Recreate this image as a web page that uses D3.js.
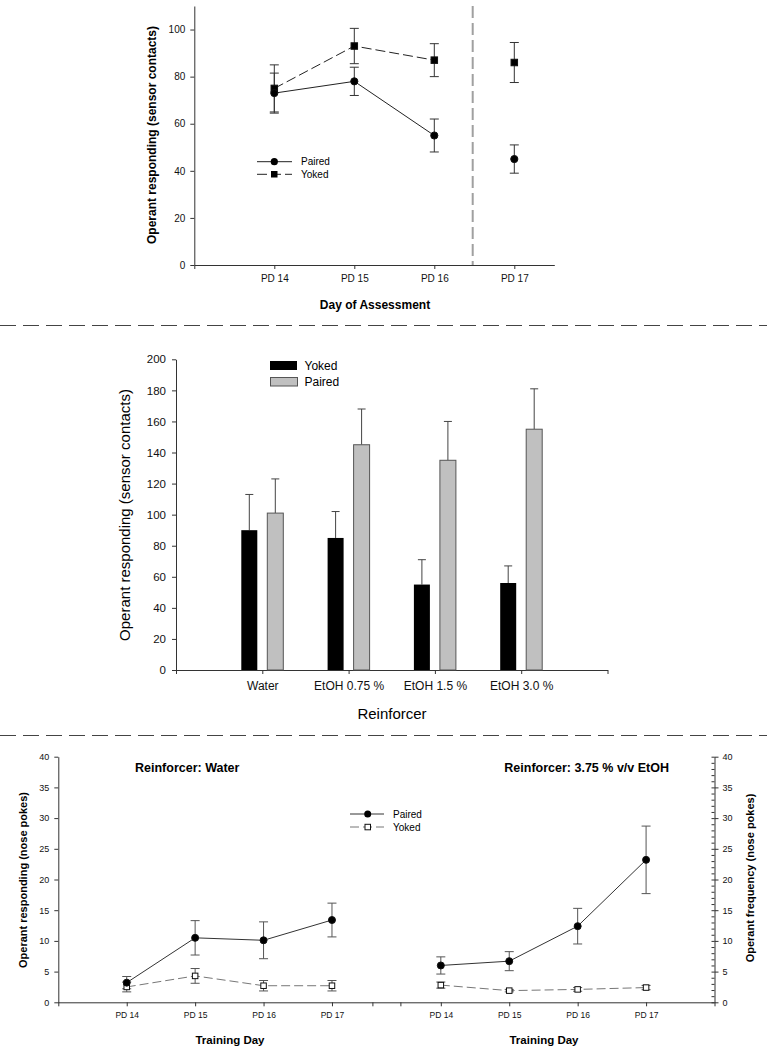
<!DOCTYPE html>
<html>
<head>
<meta charset="utf-8">
<script src="https://cdn.jsdelivr.net/npm/d3@7"></script>
<style>
  body { margin: 0; background: #fff; }
  svg { display: block; font-family: "Liberation Sans", Arial, sans-serif; }
  .axis path, .axis line { stroke: #333; }
  .axis text { fill: #111; }
</style>
</head>
<body>
<div id="chart"></div>
<script>
// ---------- data ----------

// panel 1: day of assessment
var topDays = ["PD 14", "PD 15", "PD 16", "PD 17"];
var topPairedMean = [73, 78, 55, 45];
var topPairedErr = [8.5, 6, 7, 6];
var topYokedMean = [75, 93, 87, 86];
var topYokedErr = [10, 7.5, 7, 8.5];
var topYTicks = [0, 20, 40, 60, 80, 100];

// panel 2: reinforcer bars
var reinforcers = ["Water", "EtOH 0.75 %", "EtOH 1.5 %", "EtOH 3.0 %"];
var barYokedMean = [90, 85, 55, 56];
var barYokedErr = [23, 17, 16, 11];
var barPairedMean = [101, 145, 135, 155];
var barPairedErr = [22, 23, 25, 26];
var midYTicks = [0, 20, 40, 60, 80, 100, 120, 140, 160, 180, 200];

// panel 3: training days, water and ethanol
var trainDays = ["PD 14", "PD 15", "PD 16", "PD 17"];
var waterPairedMean = [3.2, 10.5, 10.1, 13.4];
var waterPairedErr = [1.0, 2.8, 3.0, 2.75];
var waterYokedMean = [2.5, 4.3, 2.7, 2.7];
var waterYokedErr = [0.8, 1.2, 0.85, 0.85];
var etohPairedMean = [6.0, 6.7, 12.4, 23.2];
var etohPairedErr = [1.4, 1.55, 2.9, 5.5];
var etohYokedMean = [2.8, 1.9, 2.1, 2.4];
var etohYokedErr = [0.5, 0.2, 0.3, 0.35];
var botYTicks = [0, 5, 10, 15, 20, 25, 30, 35, 40];

//--------FUNCTIONS-------------

// turn parallel arrays into point records (x position 1..n)
function toPoints(means, errs) {
  return means.map(function(m, i) { return { i: i + 1, m: m, e: errs[i] }; });
}

// vertical error bars with caps
function errorBars(g, pts, x, y, color, capW, upOnly) {
  var eg = g.append("g").attr("stroke", color).attr("stroke-width", 1);
  pts.forEach(function(p) {
    var lo = upOnly ? p.m : p.m - p.e;
    eg.append("line")
      .attr("x1", x(p.i)).attr("x2", x(p.i))
      .attr("y1", y(lo)).attr("y2", y(p.m + p.e));
    eg.append("line")
      .attr("x1", x(p.i) - capW / 2).attr("x2", x(p.i) + capW / 2)
      .attr("y1", y(p.m + p.e)).attr("y2", y(p.m + p.e));
    if (!upOnly) {
      eg.append("line")
        .attr("x1", x(p.i) - capW / 2).attr("x2", x(p.i) + capW / 2)
        .attr("y1", y(p.m - p.e)).attr("y2", y(p.m - p.e));
    }
  });
}

function circles(g, pts, x, y, r, fill) {
  g.append("g").selectAll("circle")
    .data(pts)
    .enter()
    .append("circle")
    .attr("cx", d => x(d.i))
    .attr("cy", d => y(d.m))
    .attr("r", r)
    .attr("fill", fill)
    .attr("stroke", "#111");
}

function squares(g, pts, x, y, s, fill) {
  g.append("g").selectAll("rect")
    .data(pts)
    .enter()
    .append("rect")
    .attr("x", d => x(d.i) - s / 2)
    .attr("y", d => y(d.m) - s / 2)
    .attr("width", s)
    .attr("height", s)
    .attr("fill", fill)
    .attr("stroke", "#111");
}

function dayAxis(labels) {
  return function(d) { return (d >= 1 && d <= labels.length) ? labels[d - 1] : ""; };
}

//--------MAIN-------------

var svg = d3.select("#chart")
  .append("svg")
  .attr("width", 767)
  .attr("height", 1050);

svg.append("rect").attr("width", 767).attr("height", 1050).attr("fill", "#fff");

// ===== panel 1 =====
var p1 = svg.append("g");
var topX = d3.scaleLinear().domain([0, 4.5]).range([194.3, 554.3]);
var topY = d3.scaleLinear().domain([0, 110]).range([265, 6]);

p1.append("g")
  .classed("axis", true)
  .attr("transform", "translate(0,265)")
  .call(d3.axisBottom(topX).tickValues([0, 1, 2, 3, 4]).tickFormat(dayAxis(topDays))
    .tickSize(4).tickSizeOuter(0).tickPadding(6))
  .attr("font-size", 10).attr("font-family", null);

p1.append("g")
  .classed("axis", true)
  .attr("transform", "translate(194.3,0)")
  .call(d3.axisLeft(topY).tickValues(topYTicks).tickSize(4).tickSizeOuter(0).tickPadding(5))
  .attr("font-size", 10).attr("font-family", null);

// grey divider between PD 16 and PD 17
p1.append("line")
  .attr("x1", topX(3.48)).attr("x2", topX(3.48))
  .attr("y1", topY(110)).attr("y2", topY(0))
  .attr("stroke", "#a0a0a0")
  .attr("stroke-width", 2)
  .attr("stroke-dasharray", "12,5");

var topPaired = toPoints(topPairedMean, topPairedErr);
var topYoked = toPoints(topYokedMean, topYokedErr);
var topLine = d3.line().x(d => topX(d.i)).y(d => topY(d.m));

p1.append("path")
  .datum(topPaired.slice(0, 3))
  .attr("d", topLine)
  .attr("fill", "none").attr("stroke", "#222");
p1.append("path")
  .datum(topYoked.slice(0, 3))
  .attr("d", topLine)
  .attr("fill", "none").attr("stroke", "#222")
  .attr("stroke-dasharray", "10,4");

errorBars(p1, topYoked, topX, topY, "#333", 9, false);
errorBars(p1, topPaired, topX, topY, "#333", 9, false);
squares(p1, topYoked, topX, topY, 6.5, "#000");
circles(p1, topPaired, topX, topY, 3.6, "#000");

// legend
var leg1 = p1.append("g");
leg1.append("line").attr("x1", 257).attr("x2", 292).attr("y1", 161.7).attr("y2", 161.7).attr("stroke", "#222");
leg1.append("circle").attr("cx", 274.3).attr("cy", 161.7).attr("r", 3.6).attr("fill", "#000");
leg1.append("line").attr("x1", 257).attr("x2", 292).attr("y1", 174.3).attr("y2", 174.3)
  .attr("stroke", "#222").attr("stroke-dasharray", "10,4");
leg1.append("rect").attr("x", 271).attr("y", 171).attr("width", 6.5).attr("height", 6.5).attr("fill", "#000");
leg1.append("text").attr("x", 301).attr("y", 165.2).attr("font-size", 10).text("Paired");
leg1.append("text").attr("x", 301).attr("y", 177.8).attr("font-size", 10).text("Yoked");

p1.append("text")
  .attr("transform", "translate(155.5,135) rotate(-90)")
  .attr("text-anchor", "middle")
  .attr("font-size", 12).attr("font-weight", "bold")
  .text("Operant responding (sensor contacts)");
p1.append("text")
  .attr("x", 375).attr("y", 308.5)
  .attr("text-anchor", "middle")
  .attr("font-size", 12).attr("font-weight", "bold")
  .text("Day of Assessment");

// separators
svg.append("line")
  .attr("x1", 0).attr("x2", 767).attr("y1", 325.5).attr("y2", 325.5)
  .attr("stroke", "#444").attr("stroke-dasharray", "16,7");
svg.append("line")
  .attr("x1", 0).attr("x2", 767).attr("y1", 735.5).attr("y2", 735.5)
  .attr("stroke", "#444").attr("stroke-dasharray", "16,7");

// ===== panel 2 =====
var p2 = svg.append("g");
var midX = d3.scaleLinear().domain([0, 5]).range([176, 607.5]);
var midY = d3.scaleLinear().domain([0, 200]).range([670, 359.3]);
var barW = 16, barOff = 13;

p2.append("g")
  .classed("axis", true)
  .attr("transform", "translate(0,670)")
  .call(d3.axisBottom(midX).tickValues([0, 1, 2, 3, 4, 5]).tickFormat(dayAxis(reinforcers))
    .tickSize(4).tickSizeOuter(0).tickPadding(7))
  .attr("font-size", 12).attr("font-family", null);

p2.append("g")
  .classed("axis", true)
  .attr("transform", "translate(176,0)")
  .call(d3.axisLeft(midY).tickValues(midYTicks).tickSize(4).tickSizeOuter(0).tickPadding(6))
  .attr("font-size", 11.5).attr("font-family", null);

var yokedBars = toPoints(barYokedMean, barYokedErr);
var pairedBars = toPoints(barPairedMean, barPairedErr);

// error bars go behind the bars (upper half only visible)
errorBars(p2, yokedBars, i => midX(i) - barOff, midY, "#444", 8, true);
errorBars(p2, pairedBars, i => midX(i) + barOff, midY, "#444", 8, true);

p2.append("g").selectAll("rect")
  .data(yokedBars)
  .enter()
  .append("rect")
  .attr("x", d => midX(d.i) - barOff - barW / 2)
  .attr("y", d => midY(d.m))
  .attr("width", barW)
  .attr("height", d => midY(0) - midY(d.m))
  .attr("fill", "#000");

p2.append("g").selectAll("rect")
  .data(pairedBars)
  .enter()
  .append("rect")
  .attr("x", d => midX(d.i) + barOff - barW / 2)
  .attr("y", d => midY(d.m))
  .attr("width", barW)
  .attr("height", d => midY(0) - midY(d.m))
  .attr("fill", "#c0c0c0")
  .attr("stroke", "#555");

var leg2 = p2.append("g");
leg2.append("rect").attr("x", 270).attr("y", 361).attr("width", 27).attr("height", 9).attr("fill", "#000");
leg2.append("rect").attr("x", 270.5).attr("y", 377.5).attr("width", 27).attr("height", 8.5)
  .attr("fill", "#c0c0c0").attr("stroke", "#555");
leg2.append("text").attr("x", 304.5).attr("y", 370).attr("font-size", 12).text("Yoked");
leg2.append("text").attr("x", 304.5).attr("y", 386).attr("font-size", 12).text("Paired");

p2.append("text")
  .attr("transform", "translate(130,515) rotate(-90)")
  .attr("text-anchor", "middle")
  .attr("font-size", 15)
  .text("Operant responding (sensor contacts)");
p2.append("text")
  .attr("x", 392).attr("y", 719)
  .attr("text-anchor", "middle")
  .attr("font-size", 15)
  .text("Reinforcer");

// ===== panel 3 =====
var p3 = svg.append("g");
var leftX = d3.scaleLinear().domain([0, 5]).range([58.3, 400.4]);
var rightX = d3.scaleLinear().domain([0, 5]).range([372.4, 714.5]);
var botY = d3.scaleLinear().domain([0, 40]).range([1002.3, 756.7]);

// one shared baseline for both day axes
p3.append("line")
  .attr("x1", 58.3).attr("x2", 714.5).attr("y1", 1002.8).attr("y2", 1002.8)
  .attr("stroke", "#333");

p3.append("g")
  .classed("axis", true)
  .attr("transform", "translate(0,1002.3)")
  .call(d3.axisBottom(leftX).tickValues([0, 1, 2, 3, 4, 5]).tickFormat(dayAxis(trainDays))
    .tickSize(4).tickSizeOuter(0).tickPadding(6))
  .attr("font-size", 8.5).attr("font-family", null)
  .call(g => g.select(".domain").remove());
p3.append("g")
  .classed("axis", true)
  .attr("transform", "translate(0,1002.3)")
  .call(d3.axisBottom(rightX).tickValues([0, 1, 2, 3, 4, 5]).tickFormat(dayAxis(trainDays))
    .tickSize(4).tickSizeOuter(0).tickPadding(6))
  .attr("font-size", 8.5).attr("font-family", null)
  .call(g => g.select(".domain").remove());

p3.append("g")
  .classed("axis", true)
  .attr("transform", "translate(58.3,0)")
  .call(d3.axisLeft(botY).tickValues(botYTicks).tickSize(4).tickSizeOuter(0).tickPadding(5))
  .attr("font-size", 9).attr("font-family", null);

// right axis: majors with labels, minors each unit
p3.append("g")
  .classed("axis", true)
  .attr("transform", "translate(714.5,0)")
  .call(d3.axisRight(botY).tickValues(botYTicks).tickSize(4).tickSizeOuter(0).tickPadding(4))
  .attr("font-size", 9).attr("font-family", null);
p3.append("g")
  .classed("axis", true)
  .attr("transform", "translate(714.5,0)")
  .call(d3.axisLeft(botY).tickValues(d3.range(0, 41, 1)).tickSize(3).tickFormat(""))
  .call(g => g.select(".domain").remove());

var botLine = d3.line().y(d => botY(d.m));

function trainSeries(x, pMean, pErr, yMean, yErr) {
  var paired = toPoints(pMean, pErr);
  var yoked = toPoints(yMean, yErr);
  botLine.x(d => x(d.i));
  p3.append("path").datum(yoked).attr("d", botLine)
    .attr("fill", "none").attr("stroke", "#777").attr("stroke-dasharray", "9,4");
  p3.append("path").datum(paired).attr("d", botLine)
    .attr("fill", "none").attr("stroke", "#333");
  errorBars(p3, yoked, x, botY, "#555", 9, false);
  errorBars(p3, paired, x, botY, "#555", 9, false);
  squares(p3, yoked, x, botY, 5.5, "#fff");
  circles(p3, paired, x, botY, 3.5, "#000");
}

trainSeries(leftX, waterPairedMean, waterPairedErr, waterYokedMean, waterYokedErr);
trainSeries(rightX, etohPairedMean, etohPairedErr, etohYokedMean, etohYokedErr);

var leg3 = p3.append("g");
leg3.append("line").attr("x1", 350).attr("x2", 384).attr("y1", 814).attr("y2", 814).attr("stroke", "#333");
leg3.append("circle").attr("cx", 367.7).attr("cy", 814).attr("r", 3.5).attr("fill", "#000");
leg3.append("line").attr("x1", 350).attr("x2", 384).attr("y1", 827).attr("y2", 827)
  .attr("stroke", "#777").attr("stroke-dasharray", "9,4");
leg3.append("rect").attr("x", 365).attr("y", 824.3).attr("width", 5.5).attr("height", 5.5)
  .attr("fill", "#fff").attr("stroke", "#111");
leg3.append("text").attr("x", 393).attr("y", 817.5).attr("font-size", 10).text("Paired");
leg3.append("text").attr("x", 393).attr("y", 830.5).attr("font-size", 10).text("Yoked");

p3.append("text")
  .attr("x", 135).attr("y", 772)
  .attr("font-size", 12.5).attr("font-weight", "bold")
  .text("Reinforcer: Water");
p3.append("text")
  .attr("x", 669).attr("y", 772)
  .attr("text-anchor", "end")
  .attr("font-size", 12.5).attr("font-weight", "bold")
  .text("Reinforcer: 3.75 % v/v EtOH");

p3.append("text")
  .attr("transform", "translate(26.5,880) rotate(-90)")
  .attr("text-anchor", "middle")
  .attr("font-size", 11).attr("font-weight", "bold")
  .text("Operant responding (nose pokes)");
p3.append("text")
  .attr("transform", "translate(754,878) rotate(-90)")
  .attr("text-anchor", "middle")
  .attr("font-size", 11).attr("font-weight", "bold")
  .text("Operant frequency (nose pokes)");

p3.append("text")
  .attr("x", 230).attr("y", 1043.5)
  .attr("text-anchor", "middle")
  .attr("font-size", 11.5).attr("font-weight", "bold")
  .text("Training Day");
p3.append("text")
  .attr("x", 544).attr("y", 1043.5)
  .attr("text-anchor", "middle")
  .attr("font-size", 11.5).attr("font-weight", "bold")
  .text("Training Day");
</script>
</body>
</html>
